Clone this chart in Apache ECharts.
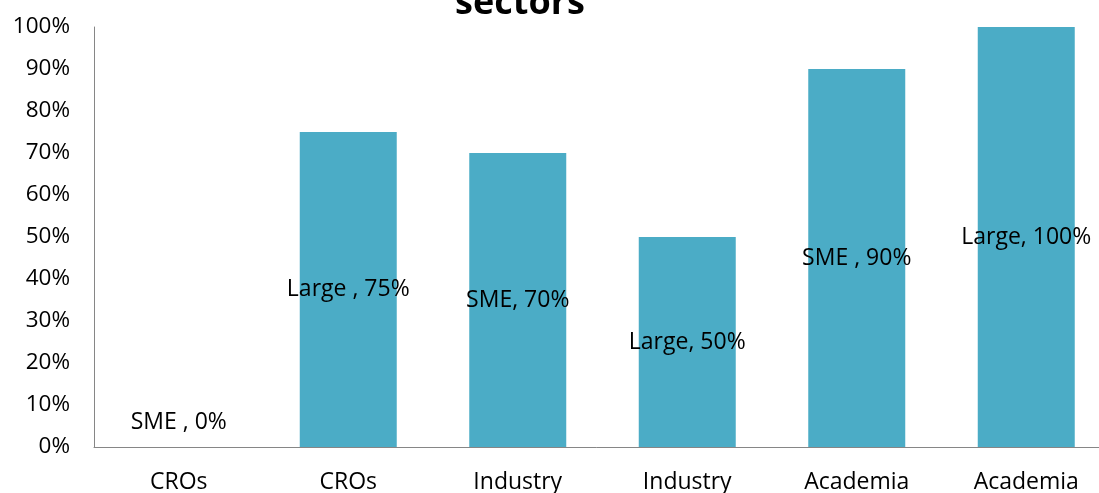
<!DOCTYPE html>
<html><head><meta charset="utf-8">
<script src="https://cdn.jsdelivr.net/npm/echarts@6/dist/echarts.min.js"></script>
<style>html,body{margin:0;padding:0;background:#fff}#c{width:1099px;height:493px}</style>
</head><body><div id="c"></div>
<script>
const categories = ['CROs','CROs','Industry','Industry','Academia','Academia'];
const values = [0, 75, 70, 50, 90, 100];
const labels = ['SME , 0%','Large , 75%','SME, 70%','Large, 50%','SME , 90%','Large, 100%'];
const yTicks = [0,10,20,30,40,50,60,70,80,90,100];
const titleText = 'sectors';
const FONT = '"Open Sans", "Liberation Sans", sans-serif';

const chart = echarts.init(document.getElementById('c'));
chart.setOption({
  animation: false,
  title: { text: titleText, left: 515, textAlign: 'center', top: -19,
    textStyle: { fontFamily: FONT, fontSize: 36, fontWeight: 'bold', color: '#000' } },
  grid: { left: 94, top: 27, width: 1017, height: 420, containLabel: false, outerBoundsMode: 'none' },
  xAxis: { type: 'category', data: categories,
    axisLine: { lineStyle: { color: '#868686', width: 1 } },
    axisTick: { show: false },
    axisLabel: { color: '#000', fontFamily: FONT, fontSize: 23, margin: 24, interval: 0 } },
  yAxis: { type: 'value', min: yTicks[0], max: yTicks[yTicks.length-1], interval: 10,
    splitLine: { show: false },
    axisLine: { show: true, lineStyle: { color: '#868686', width: 1 } },
    axisTick: { show: false },
    axisLabel: { color: '#000', fontFamily: FONT, fontSize: 22.5, margin: 24, formatter: v => v + '%' } },
  series: [{
    type: 'bar', barWidth: 97,
    itemStyle: { color: '#4BACC6' },
    label: { show: true, position: 'inside', color: '#000', fontFamily: FONT, fontSize: 23,
      formatter: p => labels[p.dataIndex] },
    data: values.map((v, i) => v === 0
      ? { value: v, label: { position: 'top', distance: 13 } }
      : { value: v })
  }]
});
</script></body></html>
